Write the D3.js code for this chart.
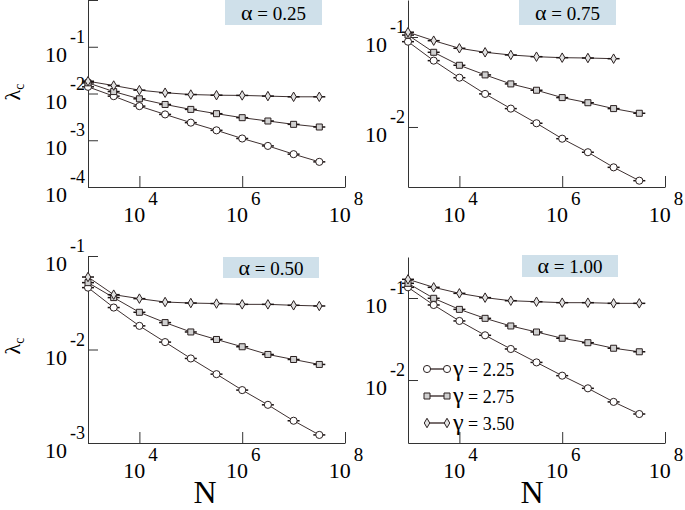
<!DOCTYPE html>
<html>
<head>
<meta charset="utf-8">
<script src="https://cdn.jsdelivr.net/npm/d3@7"></script>
<style>
  body { margin: 0; background: #fff; }
  svg { display: block; }
  text { font-family: "Liberation Serif", "DejaVu Serif", serif; fill: #000; }
</style>
</head>
<body>
<div id="chart"></div>
<script>
// system sizes N (x axis)
const sizesN = [1000, 3162, 10000, 31623, 100000, 316228, 1000000, 3162278, 10000000, 31622777];
const gammaLabels = ["2.25", "2.75", "3.50"];

// lambda_c, alpha = 0.25
const a025_g225 = [0.0139, 0.00877, 0.00537, 0.00357, 0.00238, 0.00163, 0.00109, 0.000757, 0.000504, 0.000345];
const a025_g275 = [0.0169, 0.0110, 0.0077, 0.00583, 0.00457, 0.0037, 0.00304, 0.00258, 0.00219, 0.00192];
const a025_g350 = [0.0183, 0.0148, 0.0118, 0.0104, 0.0095, 0.0092, 0.0091, 0.0088, 0.0085, 0.0085];

// lambda_c, alpha = 0.75
const a075_g225 = [0.0887, 0.0546, 0.0353, 0.0233, 0.0160, 0.0110, 0.00741, 0.00524, 0.00356, 0.00253];
const a075_g275 = [0.105, 0.0676, 0.0485, 0.0379, 0.0301, 0.0256, 0.0212, 0.0186, 0.0160, 0.0142];
const a075_g350 = [0.113, 0.091, 0.0749, 0.0676, 0.0631, 0.0604, 0.0589, 0.0584, 0.0574];

// lambda_c, alpha = 0.50
const a050_g225 = [0.0459, 0.0281, 0.0179, 0.0120, 0.00802, 0.00545, 0.00368, 0.00256, 0.00173, 0.00122];
const a050_g275 = [0.0519, 0.0359, 0.025, 0.0194, 0.0154, 0.0128, 0.0107, 0.00885, 0.00782, 0.00692];
const a050_g350 = [0.0596, 0.0386, 0.035, 0.0322, 0.0314, 0.031, 0.0304, 0.0304, 0.0297, 0.0292];

// lambda_c, alpha = 1.00
const a100_g225 = [0.135, 0.0822, 0.0525, 0.0351, 0.0239, 0.0164, 0.0113, 0.00792, 0.00541, 0.00385];
const a100_g275 = [0.151, 0.0992, 0.0727, 0.0565, 0.0456, 0.0385, 0.0323, 0.0285, 0.0244, 0.0221];
const a100_g350 = [0.169, 0.135, 0.114, 0.101, 0.0927, 0.0901, 0.0877, 0.0877, 0.0861, 0.0861];

// tick labels (exponents)
const xExponents = [4, 6, 8];
const xMinorDecades = [1e4, 1e6];

const width = 685, height = 510;
const lineColor = "#3e3030";
const axisColor = "#333";

// panel layout
const panels = [
  { alpha: "0.25", left: 88, right: 345, top: 0, bottom: 187, yDomain: [1e-4, 1], yExp: [-1, -2, -3, -4],
    series: [a025_g225, a025_g275, a025_g350], box: [225, 0, 97, 25], yTitle: 92, xTitle: null, legend: false },
  { alpha: "0.75", left: 408, right: 665, top: 0, bottom: 187, yDomain: [Math.pow(10, -2.667), Math.pow(10, -0.589)], yExp: [-1, -2],
    series: [a075_g225, a075_g275, a075_g350], box: [519, 0, 97, 25], yTitle: null, xTitle: null, legend: false },
  { alpha: "0.50", left: 88, right: 345, top: 256, bottom: 443, yDomain: [1e-3, 1e-1], yExp: [-1, -2, -3],
    series: [a050_g225, a050_g275, a050_g350], box: [223, 257, 96, 21], yTitle: 346, xTitle: 205, legend: false },
  { alpha: "1.00", left: 408, right: 665, top: 257, bottom: 443, yDomain: [Math.pow(10, -2.768), Math.pow(10, -0.5)], yExp: [-1, -2],
    series: [a100_g225, a100_g275, a100_g350], box: [522, 255, 96, 22], yTitle: null, xTitle: 532, legend: true }
];

const svg = d3.select("#chart").append("svg")
  .attr("width", width)
  .attr("height", height);

const symbolTypes = [d3.symbolCircle, d3.symbolSquare, d3.symbolDiamond];
const symbolSizes = [40, 36, 26];
const symbolFills = ["#fff", "#d0d0d0", "#e2e2e2"];

function drawSymbol(g, i, x, y) {
  g.append("path")
    .attr("transform", `translate(${x},${y})`)
    .attr("d", d3.symbol().type(symbolTypes[i]).size(symbolSizes[i])())
    .attr("fill", symbolFills[i])
    .attr("stroke", "#2a2020")
    .attr("stroke-width", 1);
}

function minorTicks(domain) {
  const out = [];
  const lo = Math.floor(Math.log10(domain[0])), hi = Math.ceil(Math.log10(domain[1]));
  for (let e = lo; e <= hi; e++) {
    for (let k = 2; k <= 9; k++) {
      const v = k * Math.pow(10, e);
      if (v >= domain[0] && v <= domain[1]) out.push(v);
    }
  }
  return out;
}

function powLabel(sel, exp, baseSize, supSize, dy) {
  sel.append("tspan").style("font-size", baseSize + "px").text("10");
  sel.append("tspan").style("font-size", supSize + "px").attr("dx", 3).attr("dy", dy).text(exp);
}

panels.forEach(p => {
  const x = d3.scaleLog().domain([1e3, 1e8]).range([p.left, p.right]);
  const y = d3.scaleLog().domain(p.yDomain).range([p.bottom, p.top]);
  const g = svg.append("g");

  // x axis: major + minor ticks, inward
  const xMinor = [];
  xMinorDecades.forEach(d => { for (let k = 2; k <= 9; k++) xMinor.push(k * d); });
  const xAxisG = g.append("g").attr("transform", `translate(0,${p.bottom})`);
  xAxisG.call(d3.axisBottom(x).tickValues(xMinor).tickSizeInner(-5).tickSizeOuter(0).tickFormat(""));
  xAxisG.call(d3.axisBottom(x).tickValues(xExponents.map(e => Math.pow(10, e))).tickSizeInner(-11).tickSizeOuter(0).tickFormat(""));
  xAxisG.selectAll("path, line").attr("stroke", axisColor).attr("stroke-width", 1);

  xExponents.forEach(e => {
    const t = g.append("text")
      .attr("x", x(Math.pow(10, e)) + 1)
      .attr("y", p.bottom + 35)
      .attr("text-anchor", "middle");
    powLabel(t, String(e), 22, 19, -17);
  });

  // y axis: major + minor ticks, inward
  const yMajor = [];
  for (let e = Math.ceil(Math.log10(p.yDomain[0]) - 1e-9); e <= Math.floor(Math.log10(p.yDomain[1]) + 1e-9); e++) yMajor.push(Math.pow(10, e));
  const yAxisG = g.append("g").attr("transform", `translate(${p.left},0)`);
  yAxisG.call(d3.axisLeft(y).tickValues(minorTicks(p.yDomain)).tickSizeInner(-5).tickSizeOuter(0).tickFormat(""));
  yAxisG.call(d3.axisLeft(y).tickValues(yMajor).tickSizeInner(-10).tickSizeOuter(0).tickFormat(""));
  yAxisG.selectAll("path, line").attr("stroke", axisColor).attr("stroke-width", 1);

  p.yExp.forEach(e => {
    const t = g.append("text")
      .attr("x", p.left - 3)
      .attr("y", y(Math.pow(10, e)) + 15)
      .attr("text-anchor", "end");
    powLabel(t, String(e), 22, 18, -19);
  });

  // series lines, error bars, symbols
  p.series.forEach((vals, i) => {
    const pts = vals.map((v, j) => [x(sizesN[j]), y(v)]);
    g.append("path")
      .attr("d", d3.line()(pts))
      .attr("fill", "none")
      .attr("stroke", lineColor)
      .attr("stroke-width", 1);
    pts.forEach(pt => {
      g.append("line")
        .attr("x1", pt[0] - 6).attr("x2", pt[0] + 6)
        .attr("y1", pt[1]).attr("y2", pt[1])
        .attr("stroke", "#1a1212").attr("stroke-width", 1.5);
    });
    pts.forEach(pt => drawSymbol(g, i, pt[0], pt[1]));
  });

  // alpha box
  g.append("rect")
    .attr("x", p.box[0]).attr("y", p.box[1])
    .attr("width", p.box[2]).attr("height", p.box[3])
    .attr("fill", "#cfe0ea");
  const at = g.append("text")
    .attr("x", p.box[0] + p.box[2] / 2)
    .attr("y", p.box[1] + p.box[3] / 2 + 7)
    .attr("text-anchor", "middle")
    .style("font-size", "19px");
  at.append("tspan").style("font-size", "22px").text("α");
  at.append("tspan").text(" = " + p.alpha);

  // axis titles
  if (p.yTitle !== null) {
    const yt = svg.append("text")
      .attr("transform", `translate(20,${p.yTitle}) rotate(-90)`)
      .attr("text-anchor", "middle")
      .style("font-size", "22px");
    yt.append("tspan").text("λ");
    yt.append("tspan").style("font-size", "14px").attr("dy", 4).text("c");
  }
  if (p.xTitle !== null) {
    svg.append("text")
      .attr("x", p.xTitle)
      .attr("y", 503)
      .attr("text-anchor", "middle")
      .style("font-size", "32px")
      .text("N");
  }

  // legend
  if (p.legend) {
    const rows = [369, 396, 423];
    gammaLabels.forEach((lab, i) => {
      const lg = g.append("g");
      lg.append("line")
        .attr("x1", 427).attr("x2", 447)
        .attr("y1", rows[i]).attr("y2", rows[i])
        .attr("stroke", lineColor).attr("stroke-width", 1.4);
      drawSymbol(lg, i, 427, rows[i]);
      drawSymbol(lg, i, 447, rows[i]);
      const lt = lg.append("text")
        .attr("x", 453).attr("y", rows[i] + 7)
        .style("font-size", "18px");
      lt.append("tspan").style("font-size", "24px").text("γ");
      lt.append("tspan").text(" = " + lab);
    });
  }
});
</script>
</body>
</html>
